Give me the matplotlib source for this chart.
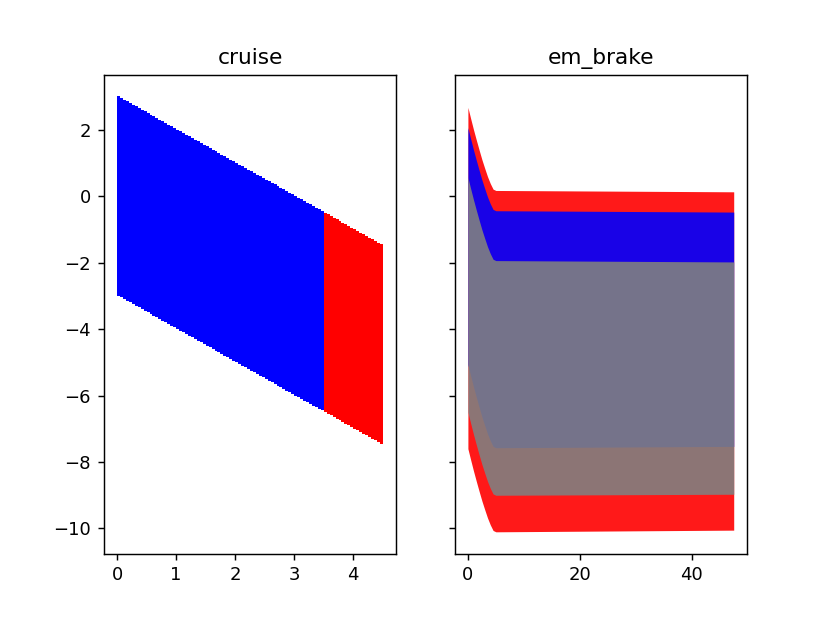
import matplotlib
matplotlib.use("Agg")
import matplotlib.pyplot as plt

"""数据部分"""
# cruise: 每个时间步一个区间 [bottom, top]，3.5 之后换成红色
cruise_t = [0.00, 0.05, 0.10, 0.15, 0.20, 0.25, 0.30, 0.35, 0.40, 0.45,
            0.50, 0.55, 0.60, 0.65, 0.70, 0.75, 0.80, 0.85, 0.90, 0.95,
            1.00, 1.05, 1.10, 1.15, 1.20, 1.25, 1.30, 1.35, 1.40, 1.45,
            1.50, 1.55, 1.60, 1.65, 1.70, 1.75, 1.80, 1.85, 1.90, 1.95,
            2.00, 2.05, 2.10, 2.15, 2.20, 2.25, 2.30, 2.35, 2.40, 2.45,
            2.50, 2.55, 2.60, 2.65, 2.70, 2.75, 2.80, 2.85, 2.90, 2.95,
            3.00, 3.05, 3.10, 3.15, 3.20, 3.25, 3.30, 3.35, 3.40, 3.45,
            3.50, 3.55, 3.60, 3.65, 3.70, 3.75, 3.80, 3.85, 3.90, 3.95,
            4.00, 4.05, 4.10, 4.15, 4.20, 4.25, 4.30, 4.35, 4.40, 4.45]
cruise_top = [3.00, 2.95, 2.90, 2.85, 2.80, 2.75, 2.70, 2.65, 2.60, 2.55,
              2.50, 2.45, 2.40, 2.35, 2.30, 2.25, 2.20, 2.15, 2.10, 2.05,
              2.00, 1.95, 1.90, 1.85, 1.80, 1.75, 1.70, 1.65, 1.60, 1.55,
              1.50, 1.45, 1.40, 1.35, 1.30, 1.25, 1.20, 1.15, 1.10, 1.05,
              1.00, 0.95, 0.90, 0.85, 0.80, 0.75, 0.70, 0.65, 0.60, 0.55,
              0.50, 0.45, 0.40, 0.35, 0.30, 0.25, 0.20, 0.15, 0.10, 0.05,
              0.00, -0.05, -0.10, -0.15, -0.20, -0.25, -0.30, -0.35, -0.40, -0.45,
              -0.50, -0.55, -0.60, -0.65, -0.70, -0.75, -0.80, -0.85, -0.90, -0.95,
              -1.00, -1.05, -1.10, -1.15, -1.20, -1.25, -1.30, -1.35, -1.40, -1.45]
cruise_bottom = [-3.00, -3.05, -3.10, -3.15, -3.20, -3.25, -3.30, -3.35, -3.40, -3.45,
                 -3.50, -3.55, -3.60, -3.65, -3.70, -3.75, -3.80, -3.85, -3.90, -3.95,
                 -4.00, -4.05, -4.10, -4.15, -4.20, -4.25, -4.30, -4.35, -4.40, -4.45,
                 -4.50, -4.55, -4.60, -4.65, -4.70, -4.75, -4.80, -4.85, -4.90, -4.95,
                 -5.00, -5.05, -5.10, -5.15, -5.20, -5.25, -5.30, -5.35, -5.40, -5.45,
                 -5.50, -5.55, -5.60, -5.65, -5.70, -5.75, -5.80, -5.85, -5.90, -5.95,
                 -6.00, -6.05, -6.10, -6.15, -6.20, -6.25, -6.30, -6.35, -6.40, -6.45,
                 -6.50, -6.55, -6.60, -6.65, -6.70, -6.75, -6.80, -6.85, -6.90, -6.95,
                 -7.00, -7.05, -7.10, -7.15, -7.20, -7.25, -7.30, -7.35, -7.40, -7.45]
cruise_switch = 3.5
cruise_dt = 0.05

# em_brake: 前 5 秒衰减, 之后基本不变 (到 47.5)
brake_t = [0.0, 0.5, 1.0, 1.5, 2.0, 2.5, 3.0, 3.5, 4.0, 4.5, 5.0, 47.5]
red_top = [2.67, 2.33, 2.00, 1.69, 1.39, 1.10, 0.84, 0.59, 0.38, 0.21, 0.17, 0.13]
red_bottom = [-7.60, -7.94, -8.27, -8.58, -8.88, -9.17, -9.43, -9.68, -9.89, -10.06, -10.10, -10.05]
blue_top = [2.06, 1.72, 1.39, 1.08, 0.78, 0.49, 0.23, -0.02, -0.23, -0.40, -0.44, -0.48]
blue_bottom = [-5.07, -5.41, -5.74, -6.05, -6.35, -6.64, -6.90, -7.15, -7.36, -7.53, -7.57, -7.53]
gray_top = [0.56, 0.22, -0.11, -0.42, -0.72, -1.01, -1.27, -1.52, -1.73, -1.90, -1.94, -1.98]
gray_bottom = [-6.50, -6.84, -7.17, -7.48, -7.78, -8.07, -8.33, -8.58, -8.79, -8.96, -9.00, -8.97]

"""绘图部分"""
fig, (ax1, ax2) = plt.subplots(1, 2, sharey=True, figsize=(830 / 130, 622 / 130))

cruise_color = ["blue" if t < cruise_switch else "red" for t in cruise_t]
cruise_h = [top - bot for top, bot in zip(cruise_top, cruise_bottom)]
ax1.bar(cruise_t, cruise_h, width=cruise_dt, bottom=cruise_bottom, align="edge",
        color=cruise_color, linewidth=0)
ax1.set_title("cruise")

# 红 -> 蓝 -> 灰 依次叠上去
for top, bot, c in [(red_top, red_bottom, "red"),
                    (blue_top, blue_bottom, "blue"),
                    (gray_top, gray_bottom, "gray")]:
    ax2.fill_between(brake_t, bot, top, color=c, alpha=0.9, linewidth=0)
ax2.set_title("em_brake")

ax1.use_sticky_edges = False
ax2.use_sticky_edges = False
ax1.autoscale_view()
ax2.autoscale_view()

plt.savefig("out.png", dpi=130)
